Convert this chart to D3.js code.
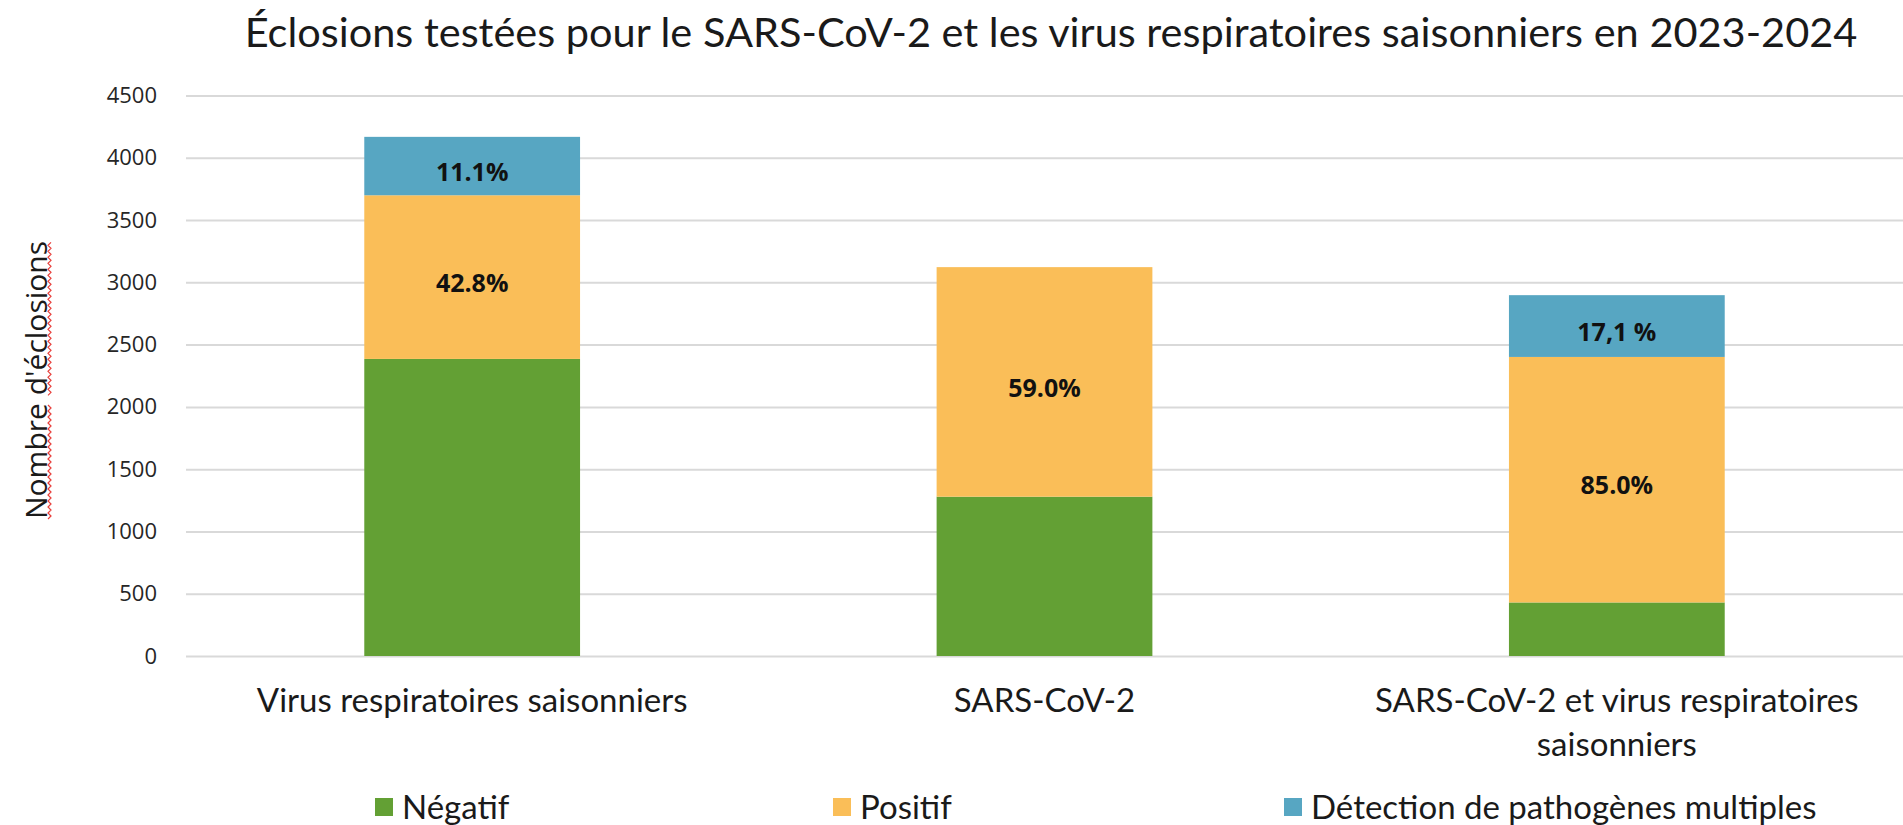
<!DOCTYPE html>
<html>
<head>
<meta charset="utf-8">
<script src="https://cdn.jsdelivr.net/npm/d3@7"></script>
<style>
  body { margin: 0; background: #fff; }
  svg { display: block; }
</style>
</head>
<body>
<div class="graph"></div>
<script>
const categories = [
  ['Virus respiratoires saisonniers'],
  ['SARS-CoV-2'],
  ['SARS-CoV-2 et virus respiratoires', 'saisonniers']
];
const seriesNames = ['Négatif', 'Positif', 'Détection de pathogènes multiples'];
const negatif = [2385, 1279, 430];
const positif = [1314, 1843, 1971];
const multiples = [469, 0, 496];
const positifLabels = ['42.8%', '59.0%', '85.0%'];
const multiplesLabels = ['11.1%', '', '17,1 %'];
const yTicks = [0, 500, 1000, 1500, 2000, 2500, 3000, 3500, 4000, 4500];
const colors = ['#63A034', '#FABE58', '#57A6C2'];

function displayGraph() {
  const w = 1903;
  const h = 825;
  const padding = { top: 95.5, right: 0, bottom: 169, left: 186 };
  const font = '"Open Sans", sans-serif';

  const rows = categories.map((c, i) => ({
    idx: i,
    neg: negatif[i],
    pos: positif[i],
    multi: multiples[i]
  }));
  const stack = d3.stack().keys(['neg', 'pos', 'multi'])(rows);
  const labels = [null, positifLabels, multiplesLabels];

  const xScale = d3.scaleBand()
    .domain(rows.map((d) => d.idx))
    .range([padding.left, w - padding.right])
    .paddingInner(0.623)
    .paddingOuter(0.3115);
  const yScale = d3.scaleLinear()
    .domain([0, 4500])
    .range([h - padding.bottom, padding.top]);

  const svg = d3.select('.graph')
    .append('svg')
    .attr('width', w)
    .attr('height', h);

  // title
  svg.append('text')
    .attr('x', 1051)
    .attr('y', 47)
    .attr('text-anchor', 'middle')
    .style('font-family', 'Lato, sans-serif')
    .style('font-size', '41.5px')
    .attr('fill', '#1a1a1a')
    .text('Éclosions testées pour le SARS-CoV-2 et les virus respiratoires saisonniers en 2023-2024');

  // gridlines + y labels
  const yAxis = svg.append('g')
    .attr('class', 'y-axis')
    .attr('transform', `translate(${padding.left}, 0)`)
    .call(d3.axisLeft(yScale)
      .tickValues(yTicks)
      .tickSize(-(w - padding.left - padding.right))
      .tickPadding(29)
      .tickFormat((d) => d));
  yAxis.select('.domain').remove();
  yAxis.selectAll('.tick line').attr('stroke', '#d9d9d9').attr('stroke-width', 2);
  yAxis.selectAll('.tick text')
    .style('font-family', font)
    .style('font-size', '22px')
    .attr('fill', '#262626');

  // y title
  const yTitle = svg.append('text')
    .attr('transform', 'translate(36, 380) rotate(-90)')
    .attr('text-anchor', 'middle')
    .attr('dy', '0.35em')
    .style('font-family', font)
    .style('font-size', '30px')
    .attr('fill', '#1a1a1a')
    .text("Nombre d'éclosions");

  // spell-check squiggles under the rotated title, one per word
  const node = yTitle.node();
  const tLen = node.getComputedTextLength();
  const start = 380 + tLen / 2;
  const words = [[0, 6], [7, 11]];
  words.forEach(([from, n]) => {
    const off = node.getSubStringLength(0, from);
    const len = node.getSubStringLength(from, n);
    const sq = [];
    for (let k = 0; k <= Math.floor(len / 3); k++) {
      sq.push([49 + (k % 2 ? 2 : -1), start - off - k * 3]);
    }
    svg.append('path')
      .attr('d', d3.line()(sq))
      .attr('fill', 'none')
      .attr('stroke', '#e8403c')
      .attr('stroke-width', 1.2);
  });

  // bars
  const layers = svg.append('g').selectAll('g')
    .data(stack)
    .join('g')
    .attr('fill', (d, i) => colors[i]);
  layers.selectAll('rect')
    .data((d) => d)
    .join('rect')
    .attr('x', (d) => xScale(d.data.idx))
    .attr('width', xScale.bandwidth())
    .attr('y', (d) => yScale(d[1]))
    .attr('height', (d) => yScale(d[0]) - yScale(d[1]));

  // data labels
  stack.forEach((layer, li) => {
    if (!labels[li]) return;
    layer.forEach((d, j) => {
      const txt = labels[li][j];
      if (!txt) return;
      svg.append('text')
        .attr('x', xScale(d.data.idx) + xScale.bandwidth() / 2)
        .attr('y', (yScale(d[0]) + yScale(d[1])) / 2 + 6)
        .attr('text-anchor', 'middle')
        .attr('dy', '0.35em')
        .style('font-family', font)
        .style('font-size', '25px')
        .style('font-weight', 'bold')
        .attr('fill', '#111')
        .text(txt);
    });
  });

  // category labels
  categories.forEach((lines, i) => {
    const t = svg.append('text')
      .attr('x', xScale(i) + xScale.bandwidth() / 2)
      .attr('y', 712)
      .attr('text-anchor', 'middle')
      .style('font-family', 'Lato, sans-serif')
      .style('font-size', '33px')
      .attr('fill', '#1a1a1a');
    lines.forEach((line, k) => {
      t.append('tspan')
        .attr('x', xScale(i) + xScale.bandwidth() / 2)
        .attr('dy', k === 0 ? 0 : 44)
        .text(line);
    });
  });

  // legend
  const legendX = [375, 833, 1284];
  const legend = svg.append('g').selectAll('g')
    .data(seriesNames)
    .join('g')
    .attr('transform', (d, i) => `translate(${legendX[i]}, 807)`);
  legend.append('rect')
    .attr('x', 0)
    .attr('y', -9)
    .attr('width', 18)
    .attr('height', 18)
    .attr('fill', (d, i) => colors[i]);
  legend.append('text')
    .attr('x', 27)
    .attr('dy', '0.35em')
    .style('font-family', 'Lato, sans-serif')
    .style('font-size', '33px')
    .attr('fill', '#1a1a1a')
    .text((d) => d);
}

displayGraph();
</script>
</body>
</html>
